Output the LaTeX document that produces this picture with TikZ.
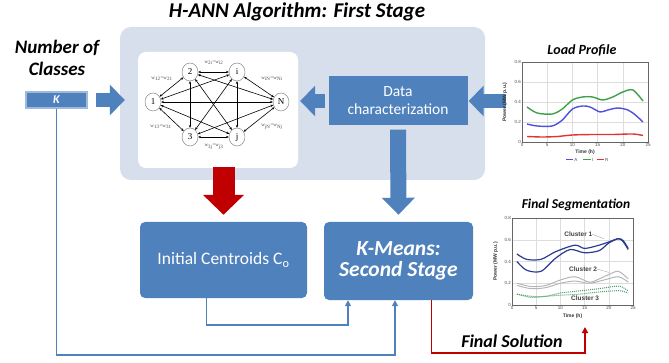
\documentclass[tikz,border=0pt]{standalone}
\usepackage{fontspec}
\setmainfont{Carlito}
\newfontfamily\serif{Liberation Serif}
\newfontfamily\chartfont{Liberation Sans}
\usetikzlibrary{arrows.meta,shapes.geometric}
\definecolor{pblue}{HTML}{4F81BD}
\definecolor{panelc}{HTML}{D6DFEB}
\definecolor{dred}{HTML}{C00000}
\definecolor{lgreen}{HTML}{3DA04B}
\definecolor{lblue}{HTML}{4F4FE0}
\definecolor{lred}{HTML}{E23232}
\definecolor{sblue}{HTML}{2C3C8E}
\definecolor{sgray}{HTML}{B5B5B5}
\definecolor{sgreen}{HTML}{4E9A6A}
\definecolor{gridc}{HTML}{DDDDDD}
\begin{document}
\begin{tikzpicture}[x=1pt,y=-1pt,
  bigtitle/.style={font=\bfseries\itshape\fontsize{21}{23}\selectfont},
  bluebox/.style={fill=pblue, text=white, inner sep=0pt},
  netnode/.style={ellipse, draw=black!55, fill=white, minimum width=16pt, minimum height=18pt, inner sep=0pt, font=\serif\fontsize{9}{9}\selectfont},
  netedge/.style={line width=0.6pt, {Stealth[length=2.8pt,width=2.4pt]}-{Stealth[length=2.8pt,width=2.4pt]}},
  wlab/.style={font=\serif\fontsize{5}{5}\selectfont, text=black!70, inner sep=0pt},
  barrow/.style={draw=pblue, line width=14pt, -{Triangle[length=15pt,width=30pt]}},
  rarrow/.style={draw=dred, line width=22pt, -{Triangle[length=20pt,width=40pt]}},
  bconn/.style={draw=pblue, line width=1.8pt, -{Triangle[length=6pt,width=6pt]}},
  rconn/.style={draw=dred, line width=1.8pt, -{Triangle[length=6pt,width=6pt]}},
  tick/.style={font=\chartfont\fontsize{4.5}{5}\selectfont, text=black!70, inner sep=1pt},
  axlab/.style={font=\chartfont\bfseries\fontsize{5}{6}\selectfont, text=black!80, inner sep=0pt},
  clab/.style={font=\chartfont\bfseries\fontsize{6.5}{7}\selectfont, text=black!75, inner sep=0pt}
]
\useasboundingbox (0,0) rectangle (669,363);

% ---- titles ----
\node[bigtitle] (title) at (297,12) {H-ANN Algorithm: First Stage};
\node[align=center, font=\bfseries\itshape\fontsize{19}{22}\selectfont] (noc) at (57,58) {Number of\\Classes};

% ---- panel ----
\node[fill=panelc, rounded corners=11pt, minimum width=365pt, minimum height=153pt, inner sep=0pt] (panel) at (302.5,103.5) {};
\node[fill=white, rounded corners=8pt, minimum width=160pt, minimum height=116pt, inner sep=0pt] (netbox) at (218,110) {};

% ---- network ----
\node[netnode] (n1) at (153,102) {1};
\node[netnode] (n2) at (190,72) {2};
\node[netnode] (ni) at (237,72) {i};
\node[netnode] (nN) at (281,102) {N};
\node[netnode] (n3) at (190,137) {3};
\node[netnode] (nj) at (237,137) {j};
\foreach \a/\b in {n1/n2,n1/ni,n1/nN,n1/n3,n1/nj,n2/ni,n2/nN,n2/n3,n2/nj,ni/nN,ni/n3,ni/nj,nN/n3,nN/nj,n3/nj}
  \draw[netedge] (\a) -- (\b);
\node[wlab] (w12) at (162,79) {w\textsubscript{12}=w\textsubscript{21}};
\node[wlab] (w2i) at (214,63) {w\textsubscript{2i}=w\textsubscript{i2}};
\node[wlab] (wiN) at (272,79) {w\textsubscript{iN}=w\textsubscript{Ni}};
\node[wlab] (w13) at (161,127) {w\textsubscript{13}=w\textsubscript{31}};
\node[wlab] (w3j) at (214,147) {w\textsubscript{3j}=w\textsubscript{j3}};
\node[wlab] (wjN) at (272,127) {w\textsubscript{jN}=w\textsubscript{Nj}};

% ---- boxes ----
\node[bluebox, minimum width=139pt, minimum height=49pt, align=center, font=\fontsize{15.5}{18}\selectfont] (data) at (398,101) {Data\\characterization};
\node[bluebox, rounded corners=5pt, minimum width=167pt, minimum height=76pt, font=\fontsize{17.5}{20}\selectfont] (init) at (223.5,260) {Initial Centroids C\textsubscript{o}};
\node[bluebox, rounded corners=5pt, minimum width=149pt, minimum height=78pt, align=center, font=\bfseries\itshape\fontsize{21.5}{21}\selectfont] (kmeans) at (398.5,261) {K-Means:\\Second Stage};
\node[fill=pblue, draw=pblue!55!white, line width=1.3pt, minimum width=61pt, minimum height=16pt, inner sep=0pt, text=white, font=\bfseries\itshape\fontsize{12}{12}\selectfont] (K) at (56.5,100) {K};

% ---- block arrows ----
\draw[barrow, shorten <=8pt, shorten >=20pt] (K.east) -- (K.east -| n1.west);
\draw[barrow, shorten <=3pt, shorten >=2pt] (data.west) -- (data.west -| netbox.east);
\coordinate (lpin) at (506,101);
\draw[barrow, shorten >=1pt] (lpin) -- (data.east);
\draw[barrow, line width=16pt, -{Triangle[length=17pt,width=32pt]}, shorten <=4pt, shorten >=7pt] (data.south) -- (kmeans.north);
\draw[rarrow, shorten <=-1pt, shorten >=7pt] (init.north |- netbox.south) -- (init.north);

% ---- connectors ----
\draw[bconn] ([xshift=-17pt]init.south) -- ++(0,27) -| ([xshift=-50.5pt]kmeans.south);
\draw[bconn] (K.south) -- ++(0,246) -| ([xshift=-3.5pt]kmeans.south);
\coordinate (segtarget) at (585,327);
\draw[rconn] ([xshift=33pt]kmeans.south) -- ++(0,53) -| (segtarget);
\node[font=\bfseries\itshape\fontsize{18}{20}\selectfont] (fsol) at (512,341) {Final Solution};

% ---- Load profile chart ----
\node[font=\bfseries\itshape\fontsize{14}{16}\selectfont] (lptitle) at (582,50) {Load Profile};
\begin{scope}[shift={(522,142)}, x=5.04pt, y=100pt]
  \foreach \t in {5,10,15,20} \draw[gridc, line width=0.4pt] (\t,0) -- (\t,0.8);
  \foreach \v in {0.2,0.4,0.6} \draw[gridc, line width=0.4pt] (0,\v) -- (25,\v);
  \draw[black!60, line width=0.5pt] (0,0) rectangle (25,0.8);
  \foreach \t in {0,5,10,15,20,25} \node[tick, below] at (\t,0) {\t};
  \foreach \v in {0,0.2,0.4,0.6,0.8} \node[tick, left] at (0,\v) {\v};
  \node[axlab] at (12.5,-0.1) {Time (h)};
  \node[axlab, rotate=90] at (-3.4,0.4) {Power (MW p.u.)};
  \draw[lgreen, line width=1.4pt, smooth] plot coordinates {(1,0.35) (3,0.29) (6,0.28) (8,0.33) (10,0.42) (12,0.45) (14,0.45) (16,0.42) (18,0.45) (20,0.50) (22,0.52) (24,0.41)};
  \draw[lblue, line width=1.4pt, smooth] plot coordinates {(1,0.18) (3,0.16) (6,0.16) (8,0.22) (10,0.33) (12,0.36) (13.5,0.35) (15.5,0.30) (17,0.32) (19,0.34) (21,0.32) (22.5,0.27) (24,0.20)};
  \draw[lred, line width=1.4pt, smooth] plot coordinates {(1,0.055) (4,0.05) (7,0.055) (10,0.07) (14,0.075) (18,0.075) (22,0.08) (24,0.065)};
  \draw[lblue, line width=0.9pt] (8.7,-0.175) -- (10.2,-0.175) node[right, tick, inner sep=0.5pt] (legA) {A};
  \draw[lgreen, line width=0.9pt] (12.2,-0.175) -- (13.7,-0.175) node[right, tick, inner sep=0.5pt] (legI) {I};
  \draw[lred, line width=0.9pt] (14.8,-0.175) -- (16.3,-0.175) node[right, tick, inner sep=0.5pt] (legR) {R};
\end{scope}

% ---- Final segmentation chart ----
\node[font=\bfseries\itshape\fontsize{13.5}{15}\selectfont] (fstitle) at (576,205) {Final Segmentation};
\begin{scope}[shift={(512,305)}, x=4.84pt, y=108.75pt]
  \foreach \t in {5,10,15,20} \draw[gridc, line width=0.4pt] (\t,0) -- (\t,0.8);
  \foreach \v in {0.2,0.4,0.6} \draw[gridc, line width=0.4pt] (0,\v) -- (25,\v);
  \draw[black!60, line width=0.5pt] (0,0) rectangle (25,0.8);
  \foreach \t in {0,5,10,15,20,25} \node[tick, below] at (\t,0) {\t};
  \foreach \v in {0,0.2,0.4,0.6,0.8} \node[tick, left] at (0,\v) {\v};
  \node[axlab] at (12.5,-0.1) {Time (h)};
  \node[axlab, rotate=90] at (-3.4,0.4) {Power (MW p.u.)};
  \draw[sblue, line width=1.2pt, smooth] plot coordinates {(1,0.47) (3,0.42) (6,0.42) (9,0.49) (13,0.55) (15,0.52) (18,0.55) (20,0.58) (22,0.61) (23,0.58) (24,0.51)};
  \draw[sblue, line width=1.2pt, smooth] plot coordinates {(1,0.40) (3,0.32) (6,0.31) (9,0.43) (12,0.51) (15,0.48) (18,0.50) (20,0.57) (22,0.61) (23,0.59) (24,0.52)};
  \draw[sgray, line width=1pt, smooth] plot coordinates {(1,0.20) (4,0.17) (7,0.18) (10,0.23) (13,0.26) (16,0.21) (18,0.24) (20,0.28) (22,0.31) (24,0.24)};
  \draw[sgray, line width=1pt, smooth] plot coordinates {(1,0.18) (4,0.15) (7,0.16) (10,0.20) (13,0.22) (16,0.20) (19,0.23) (22,0.26) (24,0.21)};
  \draw[sgreen, line width=1pt, densely dotted, smooth] plot coordinates {(1,0.10) (4,0.08) (7,0.08) (10,0.11) (14,0.13) (18,0.15) (21,0.17) (22.5,0.17) (24,0.13)};
  \draw[sgreen, line width=1pt, densely dotted, smooth] plot coordinates {(1,0.10) (4,0.07) (7,0.08) (10,0.09) (14,0.10) (18,0.12) (21,0.13) (22.5,0.13) (24,0.11)};
  \node[clab] (cl1) at (13.7,0.65) {Cluster 1};
  \node[clab] (cl2) at (14.7,0.33) {Cluster 2};
  \node[clab] (cl3) at (15.1,0.06) {Cluster 3};
  \draw[black!40, line width=0.3pt] (cl1.east) -- (19,0.61);
  \draw[black!40, line width=0.3pt] (cl2.east) -- (20,0.30);
\end{scope}
\end{tikzpicture}
\end{document}
